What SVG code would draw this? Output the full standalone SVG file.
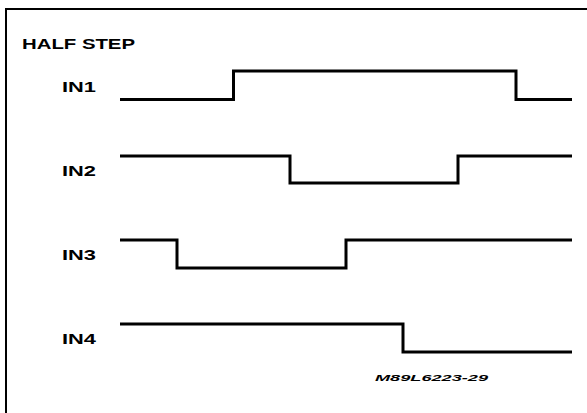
<svg xmlns="http://www.w3.org/2000/svg" width="587" height="413" viewBox="0 0 587 413">
<style>
.lbl{font-family:"Liberation Sans",Arial,sans-serif;font-weight:bold;font-size:14px;fill:#000}
.wave{fill:none;stroke:#000;stroke-width:3;stroke-linejoin:miter;stroke-linecap:butt}
.code{font-family:"Liberation Sans",Arial,sans-serif;font-weight:bold;font-style:italic;font-size:9px;fill:#000}
</style>
<rect x="0" y="0" width="587" height="413" fill="#fff"/>
<path d="M6,420 V9 H600" fill="none" stroke="#000" stroke-width="2"/>
<g id="title"><text class="lbl" x="22" y="49" textLength="113" lengthAdjust="spacingAndGlyphs">HALF STEP</text></g>
<g id="in1"><text class="lbl" x="62" y="92" textLength="34" lengthAdjust="spacingAndGlyphs">IN1</text></g>
<g id="in2"><text class="lbl" x="62" y="176" textLength="34" lengthAdjust="spacingAndGlyphs">IN2</text></g>
<g id="in3"><text class="lbl" x="62" y="260" textLength="34" lengthAdjust="spacingAndGlyphs">IN3</text></g>
<g id="in4"><text class="lbl" x="62" y="344" textLength="34" lengthAdjust="spacingAndGlyphs">IN4</text></g>
<g id="waveforms">
<path class="wave" d="M120,99.5 H233.5 V71 H516 V99.5 H572"/>
<path class="wave" d="M120,156 H290 V183 H458 V156 H572"/>
<path class="wave" d="M120,240 H177 V268 H346 V240 H572"/>
<path class="wave" d="M120,324 H403 V352 H572"/>
</g>
<g id="code"><text class="code" x="375" y="381" textLength="113" lengthAdjust="spacingAndGlyphs">M89L6223-29</text></g>
</svg>
